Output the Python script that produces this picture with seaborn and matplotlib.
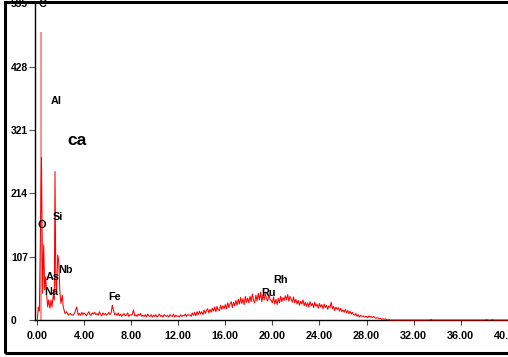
import numpy as np
import pandas as pd
import matplotlib
matplotlib.use("Agg")
import matplotlib.pyplot as plt
from matplotlib.patches import Rectangle
import seaborn as sns

# --- spectrum data -------------------------------------------------------
# low-energy region (keV, counts), read channel by channel
low_energy = [0.03, 0.11, 0.20, 0.38, 0.48, 0.57, 0.65, 0.74, 0.82, 0.91,
              0.99, 1.10, 1.19, 1.27, 1.38, 1.47, 1.53, 1.60, 1.67, 1.76,
              1.84, 1.95, 2.04, 2.15, 2.23, 2.38, 2.52, 2.66, 2.80, 2.94,
              3.08, 3.22, 3.37, 3.51]
low_counts = [0, 22, 15, 275, 45, 127, 51, 73, 42, 22,
              34, 20, 34, 22, 42, 34, 251, 60, 51, 110,
              101, 45, 28, 42, 22, 11, 14, 8, 11, 9,
              8, 13, 22, 8]

# 0.1 keV channels from 3.6 keV to 30.0 keV
grid_start, grid_step = 3.6, 0.1
grid_counts = [
    11, 8, 13, 9,                                  # 3.6 - 3.9
    12, 10, 7, 11, 14, 9, 8, 12, 10, 13,           # 4
    9, 11, 8, 14, 10, 7, 12, 9, 11, 8,             # 5
    10, 13, 9, 12, 25, 16, 9, 11, 8, 12,           # 6
    7, 10, 6, 9, 11, 7, 8, 12, 6, 9,               # 7
    8, 10, 17, 7, 9, 6, 10, 8, 11, 6,              # 8
    8, 6, 9, 5, 10, 7, 6, 9, 5, 8,                 # 9
    6, 9, 5, 7, 10, 6, 8, 5, 9, 7,                 # 10
    6, 8, 5, 9, 7, 6, 10, 5, 8, 6,                 # 11
    7, 5, 9, 6, 8, 7, 10, 6, 9, 8,                 # 12
    9, 6, 12, 8, 13, 7, 14, 9, 15, 10,             # 13
    14, 9, 17, 11, 16, 19, 12, 18, 13, 20,         # 14
    15, 22, 14, 23, 17, 16, 25, 18, 24, 19,        # 15
    26, 19, 29, 21, 27, 31, 21, 30, 24, 33,        # 16
    25, 35, 27, 38, 28, 36, 26, 40, 30, 37,        # 17
    29, 40, 31, 44, 33, 29, 42, 32, 45, 34,        # 18
    47, 31, 43, 34, 45, 36, 32, 44, 35, 33,        # 19
    29, 39, 27, 35, 26, 37, 29, 40, 31, 38,        # 20
    33, 41, 34, 43, 32, 40, 35, 30, 39, 29,        # 21
    35, 27, 33, 25, 32, 27, 34, 24, 30, 23,        # 22
    29, 22, 31, 24, 28, 21, 30, 23, 27, 20,        # 23
    28, 22, 26, 19, 27, 21, 25, 18, 24, 21,        # 24
    30, 19, 23, 16, 22, 18, 21, 15, 20, 14,        # 25
    17, 13, 18, 12, 16, 11, 15, 10, 13, 9,         # 26
    8, 11, 6, 9, 5, 8, 6, 7, 5, 6,                 # 27
    6, 4, 7, 5, 6, 4, 6, 4, 3, 4,                  # 28
    3, 2, 3, 1, 2, 1, 2, 1, 0, 1,                  # 29
    0,                                             # 30
]

# high-energy tail
tail_energy = [31.0, 33.4, 33.5, 33.6, 38.1, 38.2, 38.3, 38.6, 38.7, 38.8, 40.0]
tail_counts = [0, 0, 1, 0, 0, 1, 0, 0, 1, 0, 0]

# carbon line drawn as a marker
c_line_energy = 0.30
c_line_height = 487

# element labels: (text, keV, counts)
label_text = ["C", "Al", "O", "Si", "Nb", "As", "Na", "Fe", "Ru", "Rh"]
label_energy = [0.42, 1.61, 0.42, 1.78, 2.38, 1.36, 1.19, 6.63, 19.71, 20.65]
label_counts = [534, 370, 161, 174, 85, 73, 47, 39, 46, 68]

sample_name = "ca"
sample_pos = (3.40, 303)

x_ticks = [0, 4, 8, 12, 16, 20, 24, 28, 32, 36, 40]
x_ticklabels = ["0.00", "4.00", "8.00", "12.00", "16.00", "20.00",
                "24.00", "28.00", "32.00", "36.00", "40.00"]
y_ticks = [0, 107, 214, 321, 428, 535]

# --- assemble ------------------------------------------------------------
grid_energy = list(np.round(grid_start + grid_step * np.arange(len(grid_counts)), 2))
spec = pd.DataFrame({
    "energy": low_energy + grid_energy + tail_energy,
    "counts": low_counts + grid_counts + tail_counts,
})

sns.set_theme(style="white")
plt.rcParams["font.family"] = ["Liberation Sans", "DejaVu Sans"]
plt.rcParams["font.weight"] = "bold"

fig = plt.figure(figsize=(5.08, 3.57), dpi=100)
ax = fig.add_axes([35 / 508, 37 / 357, 473 / 508, 318 / 357])

ax.vlines(c_line_energy, 0, c_line_height, color="#ff8f8f", lw=1.4, zorder=2)
sns.lineplot(data=spec, x="energy", y="counts", ax=ax, color="#ff0000",
             lw=0.75, estimator=None, zorder=3, clip_on=False)

ax.set_xlim(-0.17, 40.02)
ax.set_ylim(0, 537.5)
ax.set_xlabel("")
ax.set_ylabel("")

ax.set_xticks(x_ticks)
ax.set_xticklabels(x_ticklabels, fontsize=7.8, fontweight="bold", color="black")
ax.set_yticks(y_ticks)
ax.set_yticklabels([str(v) for v in y_ticks], fontsize=7.4, fontweight="bold",
                   color="black")

# tick lengths/pads in points (1 px = 0.72 pt at 100 dpi)
ax.tick_params(axis="x", direction="out", length=3.8, width=0.8, color="#444444",
               pad=4.0, bottom=True)
ax.tick_params(axis="y", direction="out", length=4.3, width=0.8, color="#555555",
               pad=13.0, left=True)
for lab in ax.get_yticklabels():
    lab.set_horizontalalignment("left")

for side in ["top", "right"]:
    ax.spines[side].set_visible(False)
for side in ["left", "bottom"]:
    ax.spines[side].set_color("black")
    ax.spines[side].set_linewidth(1.0)
ax.spines["bottom"].set_zorder(2.5)

for t, e, c in zip(label_text, label_energy, label_counts):
    ax.text(e, c, t, fontsize=7.8, fontweight="bold", ha="center", va="center",
            color="black", clip_on=False)
ax.text(sample_pos[0], sample_pos[1], sample_name, fontsize=12.5,
        fontweight="bold", ha="center", va="center", color="black")

# outer frame
fig.patches.append(Rectangle((5 / 508, 4 / 357), 1.0, 351 / 357,
                             transform=fig.transFigure, fill=False,
                             edgecolor="black", lw=2.2))

fig.savefig("out.png", dpi=100, facecolor="white")
